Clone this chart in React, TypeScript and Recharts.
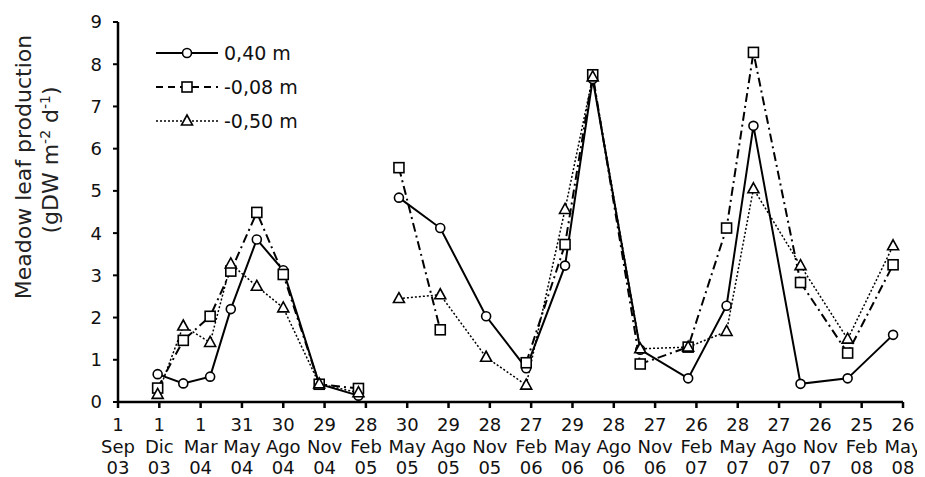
import React from 'react';
import { ComposedChart, Line, XAxis, YAxis, Legend } from 'recharts';

// sampling position, in units of the quarterly tick (0 = 1 Sep 03)
const samplePos = [0.96, 1.58, 2.23, 2.73, 3.36, 4.0, 4.87, 5.82, 6.3, 6.8, 7.8, 8.91, 9.88, 10.82, 11.49, 12.64, 13.8, 14.73, 15.38, 16.52, 17.66, 18.76];
// 6.3 = no sampling (gap)
const depth040 = [0.66, 0.44, 0.6, 2.2, 3.85, 3.12, 0.43, 0.15, null, 4.84, 4.12, 2.03, 0.8, 3.23, 7.65, 1.24, 0.56, 2.28, 6.54, 0.43, 0.56, 1.59];
const depth008 = [0.33, 1.46, 2.03, 3.1, 4.49, 3.02, 0.42, 0.32, null, 5.55, 1.71, null, 0.93, 3.73, 7.75, 0.9, 1.3, 4.12, 8.28, 2.83, 1.16, 3.25];
const depth050 = [0.18, 1.8, 1.41, 3.27, 2.74, 2.23, 0.43, 0.22, null, 2.45, 2.54, 1.06, 0.4, 4.56, 7.7, 1.26, 1.3, 1.67, 5.05, 3.23, 1.49, 3.7];

const tickDays = ['1', '1', '1', '31', '30', '29', '28', '30', '29', '28', '27', '29', '28', '27', '26', '28', '27', '26', '25', '26'];
const tickMonths = ['Sep', 'Dic', 'Mar', 'May', 'Ago', 'Nov', 'Feb', 'May', 'Ago', 'Nov', 'Feb', 'May', 'Ago', 'Nov', 'Feb', 'May', 'Ago', 'Nov', 'Feb', 'May'];
const tickYears = ['03', '03', '04', '04', '04', '04', '05', '05', '05', '05', '06', '06', '06', '06', '07', '07', '07', '07', '08', '08'];
const yTicks = [0, 1, 2, 3, 4, 5, 6, 7, 8, 9];

const data = samplePos.map((x, i) => ({ x, c: depth040[i], s: depth008[i], t: depth050[i] }));

const FONT = '"DejaVu Sans", "Liberation Sans", sans-serif';

const CircleDot = (p: any) => {
    if (p.value == null || p.cy == null) return <g key={p.key} />;
    return <circle key={p.key} cx={p.cx} cy={p.cy} r={4.5} fill="#fff" stroke="#000" strokeWidth={1.6} />;
};
const SquareDot = (p: any) => {
    if (p.value == null || p.cy == null) return <g key={p.key} />;
    return <rect key={p.key} x={p.cx - 5} y={p.cy - 5} width={10} height={10} fill="#fff" stroke="#000" strokeWidth={1.6} />;
};
const TriangleDot = (p: any) => {
    if (p.value == null || p.cy == null) return <g key={p.key} />;
    const { cx, cy } = p;
    return <path key={p.key} d={`M${cx},${cy - 6} L${cx + 5.5},${cy + 4} L${cx - 5.5},${cy + 4} Z`} fill="#fff" stroke="#000" strokeWidth={1.6} />;
};

const XTick = (props: any) => {
    const { x, y, payload } = props;
    const i = payload.value;
    return (
        <text x={x} y={y} textAnchor="middle" fontSize={18} fontFamily={FONT} fill="#111">
            <tspan x={x} dy={21}>{tickDays[i]}</tspan>
            <tspan x={x} dy={22}>{tickMonths[i]}</tspan>
            <tspan x={x} dy={21}>{tickYears[i]}</tspan>
        </text>
    );
};

const legendItems = [
    { label: '0,40 m', dash: undefined, width: 2, Mark: CircleDot },
    { label: '-0,08 m', dash: '7 5', width: 2, Mark: SquareDot },
    { label: '-0,50 m', dash: '2 2', width: 1.4, Mark: TriangleDot },
];

const renderLegend = () => (
    <svg width={220} height={100}>
        {legendItems.map((it, i) => {
            const cy = 14 + i * 34;
            return (
                <g key={it.label}>
                    <line x1={2} x2={64} y1={cy} y2={cy} stroke="#000" strokeWidth={it.width} strokeDasharray={it.dash} />
                    <it.Mark key={'m' + i} cx={33} cy={cy} value={1} />
                    <text x={70} y={cy + 7} fontSize={19} fontFamily={FONT} fill="#111">{it.label}</text>
                </g>
            );
        })}
    </svg>
);

const YLabel = () => (
    <g fontFamily={FONT} fill="#222" fontSize={22}>
        <g transform="translate(23,159) rotate(-90)">
            <text x={0} y={0} textAnchor="middle">Meadow leaf production</text>
        </g>
        <g transform="translate(50,152) rotate(-90)">
            <text x={0} y={0} textAnchor="middle">
                (gDW m<tspan dy={-8} fontSize={14}>-2</tspan><tspan dy={8}> d</tspan><tspan dy={-8} fontSize={14}>-1</tspan><tspan dy={8}>)</tspan>
            </text>
        </g>
    </g>
);

export default function App() {
    return (
        <div style={{ width: 917, height: 469, background: '#fff' }}>
            <style>{'html, body { overflow: hidden; }'}</style>
            <ComposedChart width={917} height={469} data={data} margin={{ top: 14, right: 22, left: 0, bottom: 0 }}>
                <XAxis
                    dataKey="x"
                    type="number"
                    domain={[0, 19]}
                    ticks={tickDays.map((_, i) => i)}
                    interval={0}
                    height={75}
                    tick={<XTick />}
                    tickSize={6}
                    tickMargin={2}
                    axisLine={{ stroke: '#000', strokeWidth: 2.5 }}
                    tickLine={{ stroke: '#000', strokeWidth: 2.5 }}
                    allowDataOverflow
                />
                <YAxis
                    type="number"
                    domain={[0, 9]}
                    ticks={yTicks}
                    width={110}
                    tickSize={5}
                    tickMargin={11}
                    axisLine={{ stroke: '#000', strokeWidth: 2.5 }}
                    tickLine={{ stroke: '#000', strokeWidth: 2 }}
                    tick={{ fontSize: 18, fill: '#111', fontFamily: FONT }}
                    label={{ content: () => <YLabel /> }}
                />
                <Legend
                    content={renderLegend}
                    layout="vertical"
                    align="center"
                    verticalAlign="middle"
                    wrapperStyle={{ top: 31, left: 146, width: 220 }}
                />
                <Line dataKey="c" type="linear" stroke="#000" strokeWidth={2} dot={<CircleDot />} activeDot={false} isAnimationActive={false} connectNulls={false} />
                <Line dataKey="s" type="linear" stroke="#000" strokeWidth={2} strokeDasharray="9 4 2 4" dot={<SquareDot />} activeDot={false} isAnimationActive={false} connectNulls={false} />
                <Line dataKey="t" type="linear" stroke="#000" strokeWidth={1.5} strokeDasharray="2 2" dot={<TriangleDot />} activeDot={false} isAnimationActive={false} connectNulls={false} />
            </ComposedChart>
        </div>
    );
}
